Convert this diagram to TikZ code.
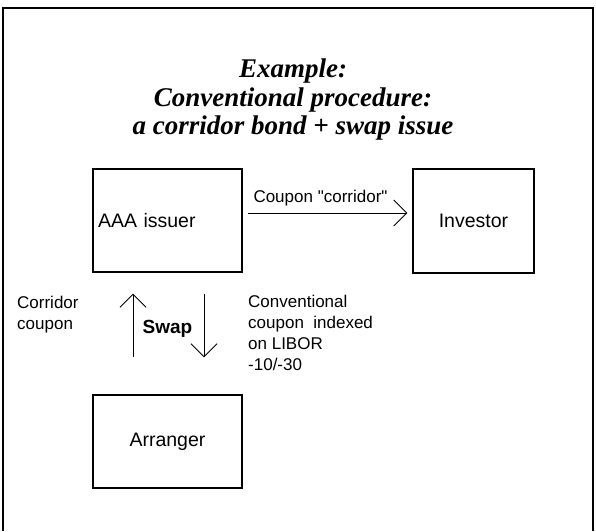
\documentclass[tikz,border=0pt]{standalone}
\usepackage{fontspec}
\newfontfamily\labfont{Liberation Sans}
\newfontfamily\titlefont{Liberation Serif}
\usetikzlibrary{arrows.meta}
\begin{document}
\begin{tikzpicture}[x=1pt,y=-1pt,
  box/.style={draw,line width=1.3pt,inner sep=5pt,font=\labfont\fontsize{19.5}{23}\selectfont},
  lbl/.style={inner sep=0pt,font=\labfont\fontsize{17}{21}\selectfont},
  arr/.style={line width=0.9pt,-{Straight Barb[length=13pt,width=26pt,line width=0.9pt]}},
  frame/.style={line width=1.4pt}]
\fill[white] (0,0) rectangle (596,531);
\useasboundingbox (0,0) rectangle (596,531);
% frame
\draw[frame] (3,531) -- (3,8) -- (593,8) -- (593,531);
% title
\node[inner sep=0pt,anchor=north,align=center,font=\titlefont\fontsize{27}{28.5}\selectfont\bfseries\itshape] (title) at (293,59)
  {Example:\\Conventional procedure:\\a corridor bond + swap issue};
% boxes
\node[box,minimum width=149pt,minimum height=103pt,text width=139pt,align=left] (aaa) at (167.5,220.5) {AAA issuer};
\node[box,minimum width=121pt,minimum height=104pt] (inv) at (473.5,221) {Investor};
\node[box,minimum width=149pt,minimum height=93pt] (arg) at (167.5,441.5) {Arranger};
% horizontal arrow
\draw[arr] ([xshift=5pt]aaa.east |- 0,213) -- ([xshift=-5pt]inv.west |- 0,213);
\node[lbl,anchor=base] (cpn) at (320.5,202) {Coupon "corridor"};
% vertical arrows
\draw[arr] ([yshift=37pt]arg.north -| 133,0) -- ([yshift=-21pt]aaa.south -| 133,0);
\draw[arr] ([yshift=-21pt]aaa.south -| 204,0) -- ([yshift=37pt]arg.north -| 204,0);
\node[inner sep=0pt,anchor=base,font=\labfont\fontsize{19}{23}\selectfont\bfseries] (swap) at (167.5,333) {Swap};
\node[lbl,anchor=north west,align=left] (cc) at (17,295.6) {Corridor\\coupon};
\node[lbl,anchor=north west,align=left] (conv) at (248,294.6) {Conventional\\coupon\ \ indexed\\on LIBOR\\-10/-30};
\end{tikzpicture}
\end{document}
